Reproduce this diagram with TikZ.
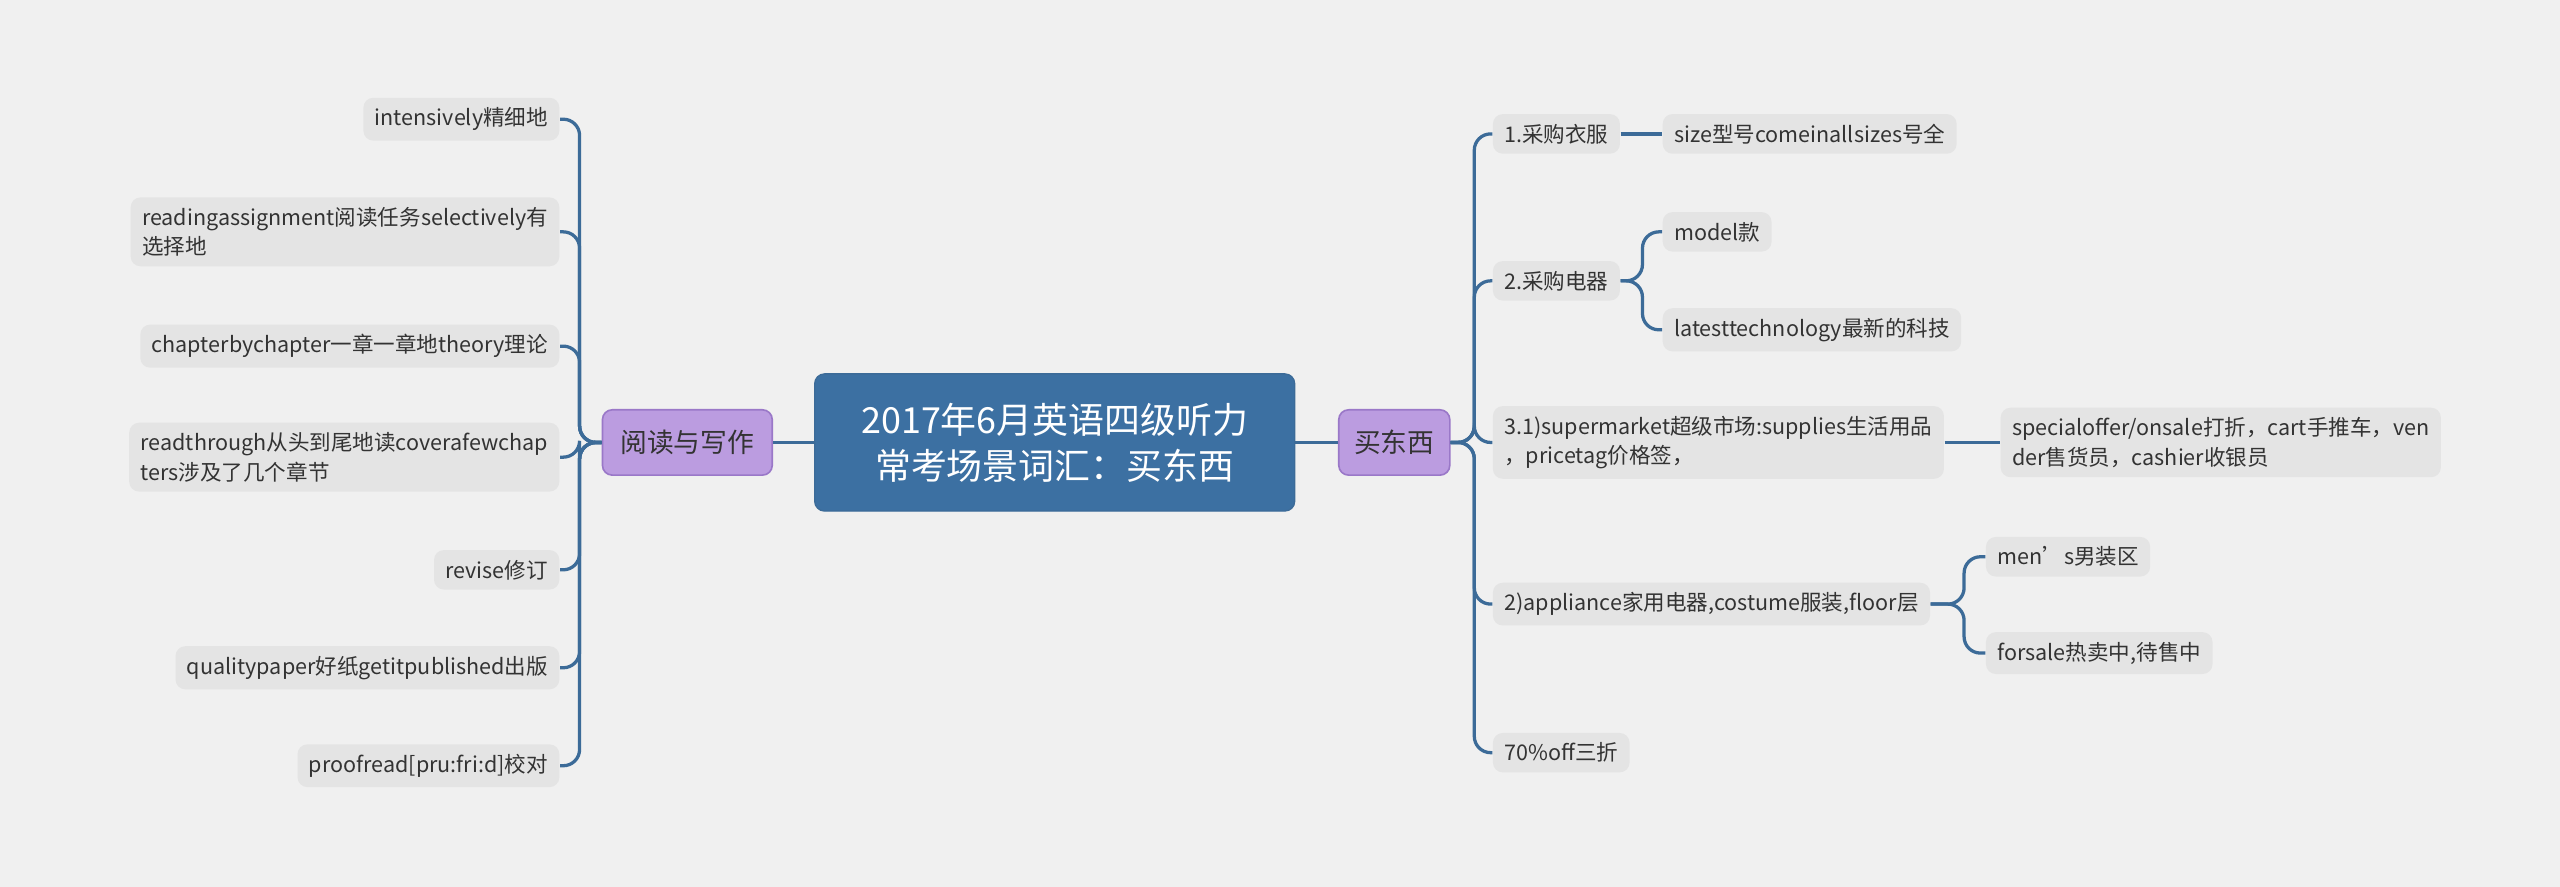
\documentclass[tikz,border=0pt]{standalone}
\usepackage{fontspec}
\setmainfont{Noto Sans CJK SC}
\begin{document}
\begin{tikzpicture}[x=0.5pt,y=-0.5pt,
 leaf/.style={fill=leafc,rounded corners=3pt,inner xsep=3.5pt,inner ysep=3pt,minimum height=12pt,font=\fontsize{6.6}{9}\selectfont,text=textc,align=left},
 mainb/.style={fill=purc,draw=purd,line width=0.5pt,rounded corners=3pt,minimum width=52pt,minimum height=20pt,font=\fontsize{8.2}{10}\selectfont,text=textc},
 con/.style={draw=linec,line width=1pt,rounded corners=5pt}]
\definecolor{leafc}{HTML}{E4E4E4}
\definecolor{textc}{HTML}{333333}
\definecolor{linec}{HTML}{3C6B98}
\definecolor{purc}{HTML}{BB9CE0}
\definecolor{purd}{HTML}{9A78C8}
\definecolor{bluec}{HTML}{3C70A2}
\fill[color={rgb,255:red,240;green,240;blue,240}] (0,0) rectangle (1568,543);
\useasboundingbox (0,0) rectangle (1568,543);
\node[fill=bluec,draw=linec,rounded corners=3pt,minimum width=147pt,minimum height=42pt,text=white,align=center,font=\fontsize{11}{14}\selectfont] (c) at (646,271) {2017年6月英语四级听力\\常考场景词汇：买东西};
\node[mainb] (L) at (421,271) {阅读与写作};
\node[mainb,minimum width=34pt] (R) at (854,271) {买东西};
% left leaves
\node[leaf,anchor=east] (l1) at (343,73) {intensively精细地};
\node[leaf,anchor=east] (l2) at (343,142) {readingassignment阅读任务selectively有\\选择地};
\node[leaf,anchor=east] (l3) at (343,212) {chapterbychapter一章一章地theory理论};
\node[leaf,anchor=east] (l4) at (343,280) {readthrough从头到尾地读coverafewchap\\ters涉及了几个章节};
\node[leaf,anchor=east] (l5) at (343,349) {revise修订};
\node[leaf,anchor=east] (l6) at (343,409) {qualitypaper好纸getitpublished出版};
\node[leaf,anchor=east] (l7) at (343,469) {proofread[pru:fri:d]校对};
% right
\node[leaf,anchor=west] (r1) at (914,82) {1.采购衣服};
\node[leaf,anchor=west] (r11) at (1018,82) {size型号comeinallsizes号全};
\node[leaf,anchor=west] (r2) at (914,172) {2.采购电器};
\node[leaf,anchor=west] (r21) at (1018,142) {model款};
\node[leaf,anchor=west] (r22) at (1018,202) {latesttechnology最新的科技};
\node[leaf,anchor=west] (r3) at (914,271) {3.1)supermarket超级市场:supplies生活用品\\，pricetag价格签，};
\node[leaf,anchor=west] (r31) at (1225,271) {specialoffer/onsale打折，cart手推车，ven\\der售货员，cashier收银员};
\node[leaf,anchor=west] (r4) at (914,370) {2)appliance家用电器,costume服装,floor层};
\node[leaf,anchor=west] (r41) at (1216,341) {men’s男装区};
\node[leaf,anchor=west] (r42) at (1216,400) {forsale热卖中,待售中};
\node[leaf,anchor=west] (r5) at (914,461) {70\%off三折};
% connectors
\draw[con] (c.west) -- (L.east);
\draw[con] (c.east) -- (R.west);
\foreach \n in {l1,l2,l3,l4,l5,l6,l7}
  \draw[con] (L.west) -- (355,271) |- (\n.east);
\foreach \n in {r1,r2,r3,r4,r5}
  \draw[con] (R.east) -- (903,271) |- (\n.west);
\draw[con] (r1.east) -- (r11.west);
\draw[con] (r3.east) -- (r31.west);
\foreach \n in {r21,r22}
  \draw[con] (r2.east) -- (1006,172) |- (\n.west);
\foreach \n in {r41,r42}
  \draw[con] (r4.east) -- (1203,370) |- (\n.west);
\end{tikzpicture}
\end{document}
